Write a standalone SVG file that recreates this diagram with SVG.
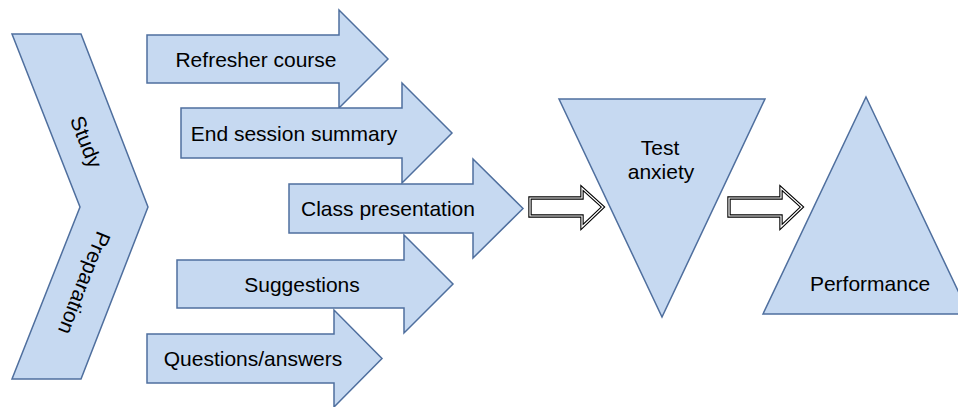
<svg xmlns="http://www.w3.org/2000/svg" xmlns:xlink="http://www.w3.org/1999/xlink" width="958" height="407" viewBox="0 0 958 407">
<style>
.shape{fill:#c6d9f1;stroke:#4f6f9e;stroke-width:1.5;stroke-linejoin:miter}
.lbl{font-family:"Liberation Sans",Arial,sans-serif;font-size:21px;fill:#000;text-anchor:middle}
.dbl-out{fill:#fff;stroke:#000;stroke-width:3.4;stroke-linejoin:miter}
.dbl-in{fill:none;stroke:#fff;stroke-width:1.2;stroke-linejoin:miter}
</style>
<defs>
<path id="oarrow" d="M0,-9 L52,-9 L52,-19 L73,0 L52,20 L52,9 L0,9 Z"/>
</defs>
<g id="chevron">
<polygon class="shape" points="12,34 81,34 148,207 81,379 12,379 80,207"/>
<text class="lbl" transform="translate(79.5,144.6) rotate(68.5)">Study</text>
<text class="lbl" transform="translate(77.5,280.4) rotate(111.5)">Preparation</text>
</g>
<g id="refresher">
<polygon class="shape" points="147,35 339,35 339,10 388,59 339,108 339,83 147,83"/>
<text class="lbl" x="256" y="66.5">Refresher course</text>
</g>
<g id="endsession">
<polygon class="shape" points="181,108 402,108 402,83 452,133 402,183 402,158 181,158"/>
<text class="lbl" x="294" y="141">End session summary</text>
</g>
<g id="classpres">
<polygon class="shape" points="289,184 473,184 473,159 523,208.5 473,258 473,233 289,233"/>
<text class="lbl" x="388" y="216">Class presentation</text>
</g>
<g id="suggestions">
<polygon class="shape" points="177,260 404,260 404,235 453,284 404,333 404,308 177,308"/>
<text class="lbl" x="302" y="292">Suggestions</text>
</g>
<g id="qa">
<polygon class="shape" points="147,334 334,334 334,310 382,358.5 334,407 334,383 147,383"/>
<text class="lbl" x="253" y="366">Questions/answers</text>
</g>
<g id="testanxiety">
<polygon class="shape" points="559,99 765,99 662,317"/>
<text class="lbl" x="660" y="155">Test</text>
<text class="lbl" x="661" y="179">anxiety</text>
</g>
<g id="performance">
<polygon class="shape" points="866,97 969,314 763,314"/>
<text class="lbl" x="870" y="291">Performance</text>
</g>
<g id="connectors">
<g transform="translate(530,207)">
<use xlink:href="#oarrow" class="dbl-out"/>
<use xlink:href="#oarrow" class="dbl-in"/>
</g>
<g transform="translate(729,207)">
<use xlink:href="#oarrow" class="dbl-out"/>
<use xlink:href="#oarrow" class="dbl-in"/>
</g>
</g>
</svg>
